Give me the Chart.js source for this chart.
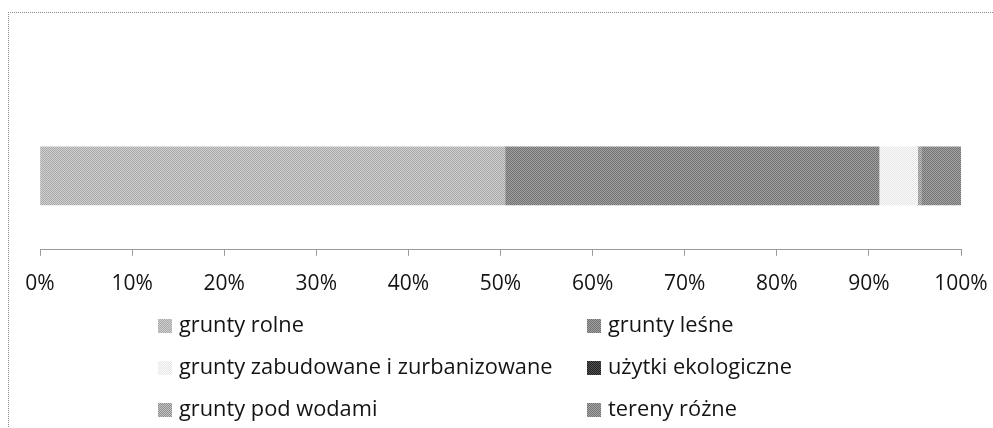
<!DOCTYPE html>
<html>
<head>
<meta charset="utf-8">
<script src="https://cdn.jsdelivr.net/npm/chart.js@4"></script>
<style>
  html, body { margin: 0; padding: 0; background: #fff; overflow: hidden; }
  #wrap { position: relative; width: 993px; height: 428px; overflow: hidden; }
  #frame { position: absolute; left: 8px; top: 12px; width: 2000px; height: 1000px;
    border-top: 1px dotted #8a8a8a; border-left: 1px dotted #8a8a8a; pointer-events: none; }
  #legend { position: absolute; left: 158px; top: 309px; width: 800px;
    font-family: "Open Sans", Lato, sans-serif; font-size: 21.8px; color: #141414; }
  .item { position: absolute; white-space: nowrap; line-height: 30px; }
  .box { display: inline-block; width: 14px; height: 14px; margin-right: 7px; vertical-align: -1px; }
</style>
</head>
<body>
<div id="wrap">
  <canvas id="landUseChart" width="993" height="428"></canvas>
  <div id="frame"></div>
  <div id="legend"></div>
</div>
<script>
const categories = [""];
const seriesNames = [
  "grunty rolne",
  "grunty leśne",
  "grunty zabudowane i zurbanizowane",
  "użytki ekologiczne",
  "grunty pod wodami",
  "tereny różne",
];
const seriesValues = [50.5, 40.6, 4.2, 0, 0.4, 4.3];
const tickLabels = ["0%", "10%", "20%", "30%", "40%", "50%", "60%", "70%", "80%", "90%", "100%"];
const seriesShades = [
  ["#d0d0d0", "#a8a8a8"],
  ["#a2a2a2", "#707070"],
  ["#fbfbfb", "#e6e6e6"],
  ["#555555", "#1e1e1e"],
  ["#c4c4c4", "#8e8e8e"],
  ["#a4a4a4", "#747474"],
];

// small checker tile so the fills look like the dithered print
function makeTile(shades) {
  const c = document.createElement("canvas");
  c.width = 2;
  c.height = 2;
  const g = c.getContext("2d");
  g.fillStyle = shades[0];
  g.fillRect(0, 0, 2, 2);
  g.fillStyle = shades[1];
  g.fillRect(0, 0, 1, 1);
  g.fillRect(1, 1, 1, 1);
  return c;
}

function renderChart() {
  const ctx = document.getElementById("landUseChart").getContext("2d");
  const tiles = seriesShades.map(makeTile);

  const datasets = seriesNames.map((name, i) => ({
    label: name,
    data: [seriesValues[i]],
    backgroundColor: ctx.createPattern(tiles[i], "repeat"),
    borderWidth: 0,
    barThickness: 58,
  }));

  new Chart(ctx, {
    type: "bar",
    data: { labels: categories, datasets: datasets },
    options: {
      indexAxis: "y",
      responsive: false,
      animation: false,
      layout: { padding: { left: 40, right: 32, top: 102, bottom: 115 } },
      plugins: {
        legend: { display: false },
        tooltip: { enabled: false },
      },
      scales: {
        y: { stacked: true, display: false },
        x: {
          stacked: true,
          min: 0,
          max: 100,
          afterFit: (scale) => {
            // edges are set by layout padding alone
            scale.paddingLeft = 0;
            scale.paddingRight = 0;
          },
          border: { display: true, color: "#9a9a9a", width: 1 },
          grid: { drawOnChartArea: false, drawTicks: true, tickLength: 6, color: "#9a9a9a" },
          ticks: {
            stepSize: 10,
            padding: 16,
            color: "#141414",
            font: { family: "'Open Sans', Lato, sans-serif", size: 21 },
            callback: (v, i) => tickLabels[i],
          },
        },
      },
    },
  });

  // two-column legend like the original
  const legend = document.getElementById("legend");
  seriesNames.forEach((name, i) => {
    const item = document.createElement("div");
    item.className = "item";
    item.style.left = (i % 2 === 0 ? 0 : 429) + "px";
    item.style.top = Math.floor(i / 2) * 42 + "px";
    const box = document.createElement("span");
    box.className = "box";
    box.style.backgroundImage = "url(" + tiles[i].toDataURL() + ")";
    item.appendChild(box);
    item.appendChild(document.createTextNode(name));
    legend.appendChild(item);
  });
}

document.addEventListener("DOMContentLoaded", renderChart);
</script>
</body>
</html>
